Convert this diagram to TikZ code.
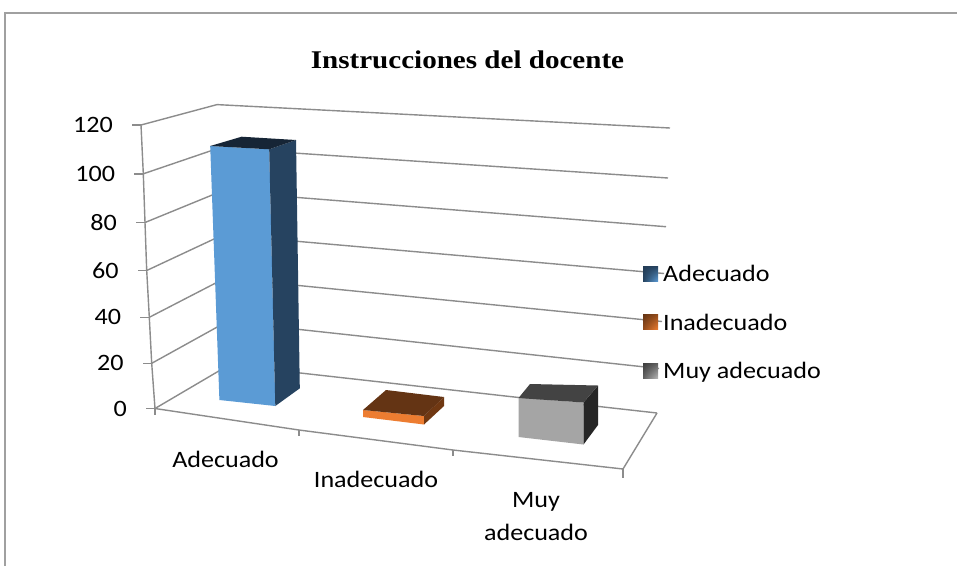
\documentclass[tikz,border=0pt]{standalone}
\usepackage{fontspec}
\usetikzlibrary{shadings}
\setmainfont{Carlito}[FakeStretch=1.11]
\newfontfamily\titlefont{Liberation Serif}[FakeStretch=1.14]
\definecolor{gridgray}{HTML}{8C8C8C}
\definecolor{framegray}{HTML}{A0A0A0}
\definecolor{bluefront}{HTML}{5B9BD5}
\definecolor{blueside}{HTML}{264360}
\definecolor{bluetop}{HTML}{162536}
\definecolor{orfront}{HTML}{ED7D31}
\definecolor{ortop}{HTML}{643414}
\definecolor{orside}{HTML}{703812}
\definecolor{grfront}{HTML}{A5A5A5}
\definecolor{grtop}{HTML}{434343}
\definecolor{grside}{HTML}{262626}
\begin{document}
\begin{tikzpicture}[x=1pt,y=-1pt,
  gridln/.style={draw=gridgray,line width=1.4pt,line join=round},
  lbl/.style={font=\fontsize{23.5}{28}\selectfont,inner sep=0pt,text=black},
  ttl/.style={font=\titlefont\bfseries\fontsize{25.5}{30}\selectfont,inner sep=0pt,text=black}]
\useasboundingbox (0,0) rectangle (957,566);
\fill[white] (0,0) rectangle (957,566);
\draw[framegray,line width=1.5pt] (5,566) -- (5,13) -- (957,13);

% title
\node[ttl,anchor=base] (title) at (467.5,68.3) {Instrucciones del docente};

% front axis points
\coordinate (F0) at (155,408.5);
\coordinate (F1) at (151.7,363.3);
\coordinate (F2) at (149.3,317.3);
\coordinate (F3) at (146.7,270.5);
\coordinate (F4) at (145,222.5);
\coordinate (F5) at (143.3,173.8);
\coordinate (F6) at (141,125);
% back-left corner points
\foreach \k in {0,...,6}{
  \coordinate (C\k) at ({229-2*\k},{365-43.4*\k});
}
% back-right points
\coordinate (R0) at (657,413);
\coordinate (R1) at (659,368.5);
\coordinate (R2) at (662,321.5);
\coordinate (R3) at (664,273.5);
\coordinate (R4) at (666,226.7);
\coordinate (R5) at (668,178);
\coordinate (R6) at (670,128);
% floor front points
\coordinate (G1) at (299,430);
\coordinate (G2) at (453,450);
\coordinate (G3) at (623,469);

% gridlines
\foreach \k in {0,...,6}{
  \draw[gridln] (F\k) -- (C\k) -- (R\k);
  \draw[gridln] (F\k) -- ++(-9,0);
}
% axes
\draw[gridln] (F6) -- (F5) -- (F4) -- (F3) -- (F2) -- (F1) -- (F0) -- (G1) -- (G2) -- (G3) -- (R0);
\draw[gridln] (F0) -- ++(0,6);
\draw[gridln] (G1) -- ++(0,6);
\draw[gridln] (G2) -- ++(0,6);
\draw[gridln] (G3) -- ++(0,9);

% y labels
\foreach \k/\v in {0/0,1/20,2/40,3/60,4/80,5/100,6/120}{
  \node[lbl,anchor=east,xshift=-28pt] (y\k) at (F\k) {\v};
}

% bar Adecuado
\fill[bluefront] (210.2,146) -- (269.2,149.3) -- (275.3,406) -- (219.4,400) -- cycle;
\fill[blueside] (269.2,149.3) -- (296,140) -- (299.8,388.3) -- (275.3,406) -- cycle;
\fill[bluetop] (210.2,146) -- (241.6,136.7) -- (296,140) -- (269.2,149.3) -- cycle;
% bar Inadecuado
\fill[orfront] (363,410) -- (424,416) -- (424,424.5) -- (363,417) -- cycle;
\fill[orside] (424,416) -- (444,397) -- (444,406) -- (424,424.5) -- cycle;
\fill[ortop] (363,410) -- (386,390) -- (444,397) -- (424,416) -- cycle;
% bar Muy adecuado
\fill[grfront] (518.5,398) -- (583.5,402.5) -- (583.5,444.5) -- (518.5,437) -- cycle;
\fill[grside] (583.5,402.5) -- (598,385.5) -- (598,425) -- (583.5,444.5) -- cycle;
\fill[grtop] (518.5,398) -- (530,384) -- (598,385.5) -- (583.5,402.5) -- cycle;

% category labels
\node[lbl,anchor=base] (cat1) at (225.5,467.5) {Adecuado};
\node[lbl,anchor=base] (cat2) at (376,487) {Inadecuado};
\node[lbl,anchor=base] (cat3a) at (536,507.5) {Muy};
\node[lbl,anchor=base] (cat3b) at (536,540) {adecuado};

% legend
\shade[upper left=bluetop!80!bluefront,lower right=bluefront,upper right=blueside,lower left=blueside] (643,266) rectangle (658,281);
\shade[upper left=ortop,lower right=orfront,upper right=orside!70!orfront,lower left=orside!70!orfront] (643,314.5) rectangle (658,329.5);
\shade[upper left=grtop!90!black,lower right=grfront!80!white,upper right=grtop!70!grfront,lower left=grtop!70!grfront] (643,363) rectangle (658,378);
\node[lbl,anchor=base west] (leg1) at (663,281.5) {Adecuado};
\node[lbl,anchor=base west] (leg2) at (663,330) {Inadecuado};
\node[lbl,anchor=base west] (leg3) at (663,378.5) {Muy adecuado};
\end{tikzpicture}
\end{document}
